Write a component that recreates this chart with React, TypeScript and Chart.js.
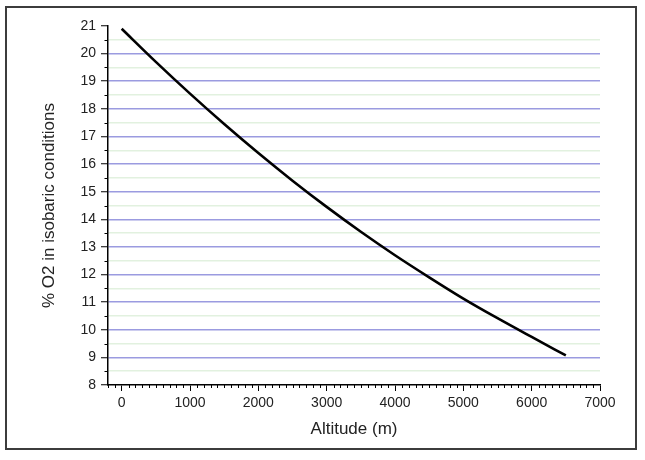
import React, { useEffect, useRef } from 'react';
import { Chart, registerables } from 'chart.js';

Chart.register(...registerables);

const altitudes = [0, 500, 1000, 1500, 2000, 2500, 3000, 3500, 4000, 4500, 5000, 5500, 6000, 6500];
const o2Percent = [20.9, 19.7, 18.55, 17.45, 16.4, 15.4, 14.45, 13.55, 12.7, 11.9, 11.13, 10.42, 9.74, 9.07];

const FONT = "'Liberation Sans', Arial, sans-serif";

const isWhole = (v: number) => Math.abs(v - Math.round(v)) < 0.001;

// short minor tick marks, the library only draws one tick length per axis
const minorTicks = {
  id: 'minorTicks',
  afterDraw(chart: any) {
    const { ctx } = chart;
    const xs = chart.scales.x;
    const ys = chart.scales.y;
    ctx.save();
    ctx.strokeStyle = '#000';
    ctx.lineWidth = 1;
    ctx.beginPath();
    xs.ticks.forEach((t: any) => {
      if (Math.round(t.value) % 1000 !== 0) {
        const px = Math.round(xs.getPixelForValue(t.value)) + 0.5;
        ctx.moveTo(px, xs.top);
        ctx.lineTo(px, xs.top + 3);
      }
    });
    ys.ticks.forEach((t: any) => {
      if (!isWhole(t.value)) {
        const py = Math.round(ys.getPixelForValue(t.value)) + 0.5;
        ctx.moveTo(ys.right, py);
        ctx.lineTo(ys.right - 3.5, py);
      }
    });
    ctx.stroke();
    ctx.restore();
  },
};

export default function App() {
  const canvasRef = useRef<HTMLCanvasElement>(null);
  const chartInstance = useRef<Chart | null>(null);

  useEffect(() => {
    if (!canvasRef.current) return;
    const ctx = canvasRef.current.getContext('2d');
    if (!ctx) return;

    chartInstance.current = new Chart(ctx, {
      type: 'line',
      data: {
        datasets: [
          {
            data: altitudes.map((a, i) => ({ x: a, y: o2Percent[i] })),
            borderColor: '#000',
            borderWidth: 2.6,
            pointRadius: 0,
            tension: 0.4,
            cubicInterpolationMode: 'monotone',
            fill: false,
          },
        ],
      },
      options: {
        animation: false,
        responsive: false,
        maintainAspectRatio: false,
        layout: { padding: { left: 0, top: 26, right: 45, bottom: 0 } },
        plugins: {
          legend: { display: false },
          tooltip: { enabled: false },
        },
        scales: {
          x: {
            type: 'linear',
            min: -200,
            max: 7000,
            afterFit: (scale: any) => {
              scale.height = 75;
            },
            ticks: {
              stepSize: 100,
              autoSkip: false,
              maxRotation: 0,
              padding: 4,
              color: '#222',
              font: { family: FONT, size: 14 },
              callback: (v: any) => (Math.round(v) % 1000 === 0 ? String(Math.round(v)) : ''),
            },
            grid: {
              drawOnChartArea: false,
              drawTicks: true,
              tickLength: 6,
              tickWidth: 1,
              tickColor: (c: any) =>
                c.tick && Math.round(c.tick.value) % 1000 === 0 ? '#000' : 'transparent',
            },
            border: { display: true, color: '#000', width: 1.5 },
            title: {
              display: true,
              text: 'Altitude (m)',
              color: '#222',
              font: { family: FONT, size: 17 },
              padding: { top: 0, bottom: 20 },
            },
          },
          y: {
            type: 'linear',
            min: 8,
            max: 21,
            afterFit: (scale: any) => {
              scale.width = 108;
            },
            ticks: {
              stepSize: 0.5,
              autoSkip: false,
              padding: 5,
              color: '#222',
              font: { family: FONT, size: 14 },
              callback: (v: any) => (isWhole(v) ? String(Math.round(v)) : ''),
            },
            grid: {
              drawOnChartArea: true,
              drawTicks: true,
              tickLength: 7,
              lineWidth: 1.5,
              tickWidth: 1,
              color: (c: any) => {
                const v = c.tick ? c.tick.value : 0;
                if (v <= 8 || v >= 21) return 'transparent';
                return isWhole(v) ? '#9b9be0' : '#e2f1df';
              },
              tickColor: (c: any) => (c.tick && isWhole(c.tick.value) ? '#000' : 'transparent'),
            },
            border: { display: true, color: '#000', width: 1.5 },
            title: {
              display: true,
              text: '% O2 in isobaric conditions',
              color: '#222',
              font: { family: FONT, size: 17 },
              padding: { top: 39, bottom: 0 },
            },
          },
        },
      },
      plugins: [minorTicks],
    });

    return () => {
      chartInstance.current?.destroy();
    };
  }, []);

  return (
    <div style={{ position: 'fixed', left: 0, top: 0, width: 645, height: 460, background: '#fff' }}>
      <div
        style={{
          position: 'absolute',
          left: 5,
          top: 6,
          width: 632,
          height: 444,
          boxSizing: 'border-box',
          border: '2px solid #3c3c3c',
        }}
      />
      <canvas
        ref={canvasRef}
        width={645}
        height={460}
        style={{ position: 'absolute', left: 0, top: 0, width: 645, height: 460 }}
      />
    </div>
  );
}
